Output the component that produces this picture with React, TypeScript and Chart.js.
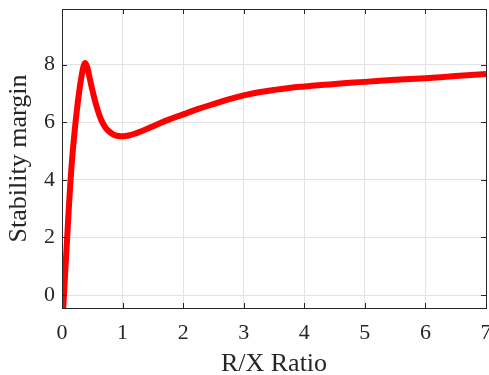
import React, { useEffect, useRef } from "react";
import { Chart, registerables } from "chart.js";

Chart.register(...registerables);

// R/X ratio samples and the stability margin
const rxRatio = [
  0, 0.022, 0.05, 0.085, 0.11, 0.14, 0.17, 0.2, 0.25, 0.3, 0.34, 0.36, 0.38,
  0.4, 0.42, 0.45, 0.5, 0.55, 0.6, 0.65, 0.7, 0.75, 0.85, 0.93, 1.01, 1.1, 1.2,
  1.3, 1.42, 1.55, 1.75, 2.0, 2.25, 2.5, 2.75, 3.0, 3.25, 3.5, 3.75, 4.0, 4.5,
  5.0, 5.5, 6.0, 6.5, 7.0,
];
const stabilityMargin = [
  -1.2, -0.38, 0.68, 1.98, 2.92, 3.95, 4.8, 5.5, 6.5, 7.3, 7.8, 7.97, 8.05,
  8.0, 7.88, 7.6, 7.13, 6.7, 6.35, 6.07, 5.87, 5.73, 5.57, 5.52, 5.51, 5.54,
  5.6, 5.68, 5.78, 5.9, 6.08, 6.27, 6.46, 6.63, 6.79, 6.93, 7.04, 7.12, 7.19,
  7.24, 7.33, 7.4, 7.47, 7.53, 7.6, 7.67,
];
const xTickValues = [0, 1, 2, 3, 4, 5, 6, 7];
const yTickValues = [0, 2, 4, 6, 8];
const xLimits = [0, 7];
const yLimits = [-0.45, 9.93];

const AXIS_COLOR = "#262626";
const FONT = "'Liberation Serif', 'Times New Roman', serif";

const boxAndTicks = {
  id: "boxAndTicks",
  afterDraw(chart: any) {
    const { ctx, chartArea, scales } = chart;
    const { left, right, top, bottom } = chartArea;
    const L = 5;
    ctx.save();
    ctx.strokeStyle = AXIS_COLOR;
    ctx.lineWidth = 1;
    ctx.beginPath();
    for (const t of scales.x.ticks) {
      const px = Math.round(scales.x.getPixelForValue(t.value)) + 0.5;
      ctx.moveTo(px, bottom);
      ctx.lineTo(px, bottom - L);
      ctx.moveTo(px, top);
      ctx.lineTo(px, top + L);
    }
    for (const t of scales.y.ticks) {
      const py = Math.round(scales.y.getPixelForValue(t.value)) + 0.5;
      ctx.moveTo(left, py);
      ctx.lineTo(left + L, py);
      ctx.moveTo(right, py);
      ctx.lineTo(right - L, py);
    }
    ctx.stroke();
    ctx.strokeRect(
      Math.round(left) + 0.5,
      Math.round(top) + 0.5,
      Math.round(right - left),
      Math.round(bottom - top)
    );
    ctx.restore();
  },
};

export default function App() {
  const ref = useRef<HTMLCanvasElement | null>(null);

  useEffect(() => {
    document.body.style.margin = "0";
    const canvas = ref.current;
    if (!canvas) return;
    const chart = new Chart(canvas, {
      type: "line",
      data: {
        datasets: [
          {
            data: rxRatio.map((x, i) => ({ x, y: stabilityMargin[i] })),
            borderColor: "#ff0000",
            borderWidth: 6,
            pointRadius: 0,
            fill: false,
            tension: 0.4,
            clip: 0,
          },
        ],
      },
      options: {
        responsive: false,
        animation: false,
        events: [],
        layout: { padding: { top: 9, right: 3, left: 0, bottom: 0 } },
        plugins: {
          legend: { display: false },
          tooltip: { enabled: false },
        },
        scales: {
          x: {
            type: "linear",
            min: xLimits[0],
            max: xLimits[1],
            afterBuildTicks: (s: any) => {
              s.ticks = xTickValues.map((v) => ({ value: v }));
            },
            afterFit: (s: any) => {
              s.height = 67;
              s.paddingLeft = 0;
              s.paddingRight = 0;
            },
            grid: { color: "#e3e3e3", drawTicks: false, lineWidth: 1 },
            border: { display: false },
            ticks: {
              color: AXIS_COLOR,
              font: { family: FONT, size: 22 },
              padding: 12,
              maxRotation: 0,
              autoSkip: false,
            },
            title: {
              display: true,
              text: "R/X Ratio",
              color: AXIS_COLOR,
              font: { family: FONT, size: 26 },
              padding: { top: 0, bottom: -5 },
            },
          },
          y: {
            type: "linear",
            min: yLimits[0],
            max: yLimits[1],
            afterBuildTicks: (s: any) => {
              s.ticks = yTickValues.map((v) => ({ value: v }));
            },
            afterFit: (s: any) => {
              s.width = 62;
              s.paddingTop = 0;
              s.paddingBottom = 0;
            },
            grid: { color: "#e3e3e3", drawTicks: false, lineWidth: 1 },
            border: { display: false },
            ticks: {
              color: AXIS_COLOR,
              font: { family: FONT, size: 22 },
              padding: 7,
              autoSkip: false,
            },
            title: {
              display: true,
              text: "Stability margin",
              color: AXIS_COLOR,
              font: { family: FONT, size: 26 },
              padding: { top: 4, bottom: 0 },
            },
          },
        },
      },
      plugins: [boxAndTicks],
    });
    return () => chart.destroy();
  }, []);

  return (
    <canvas
      ref={ref}
      width={489}
      height={375}
      style={{ display: "block", width: 489, height: 375 }}
    />
  );
}
